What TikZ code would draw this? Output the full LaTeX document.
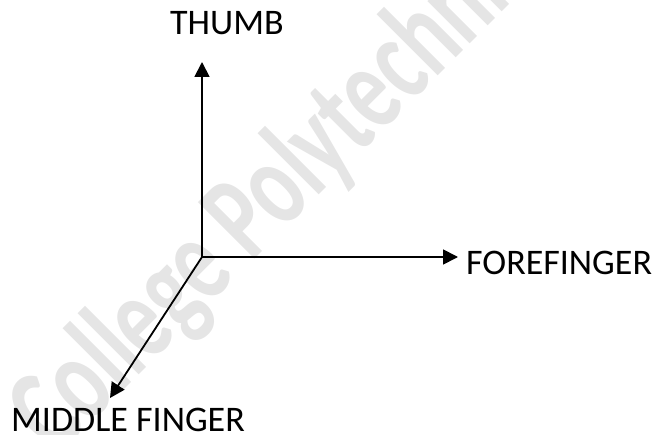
\documentclass[tikz,border=0pt]{standalone}
\usepackage{fontspec}
\setmainfont{Carlito}
\usetikzlibrary{arrows.meta}
\tikzset{
  axis/.style={line width=1.8pt, -{Triangle[length=15pt,width=15pt]}},
  lbl/.style={font=\fontsize{36}{40}\selectfont, inner sep=0pt, anchor=base west},
  wmark/.style={font=\bfseries\fontsize{85}{90}\selectfont, text=gray!20, inner sep=0pt, anchor=base west, rotate=45, yscale=1.45}
}
\begin{document}
\begin{tikzpicture}[x=1pt,y=1pt]
\useasboundingbox (0,0) rectangle (660,434);
\begin{scope}
\clip (0,0) rectangle (660,434);
\node[wmark] (wm) at (56,-24) {College Polytechnic};
\end{scope}
\coordinate (O) at (202,177);
\coordinate (T) at (202,372);
\coordinate (F) at (458,177);
\coordinate (M) at (110,36);
\draw[axis] (O) -- (T);
\draw[axis] (O) -- (F);
\draw[axis] (O) -- (M);
\node[lbl] (thumb) at (170,399) {THUMB};
\node[lbl] (fore) at (466,160) {FOREFINGER};
\node[lbl] (mid) at (11,3) {MIDDLE FINGER};
\end{tikzpicture}
\end{document}
